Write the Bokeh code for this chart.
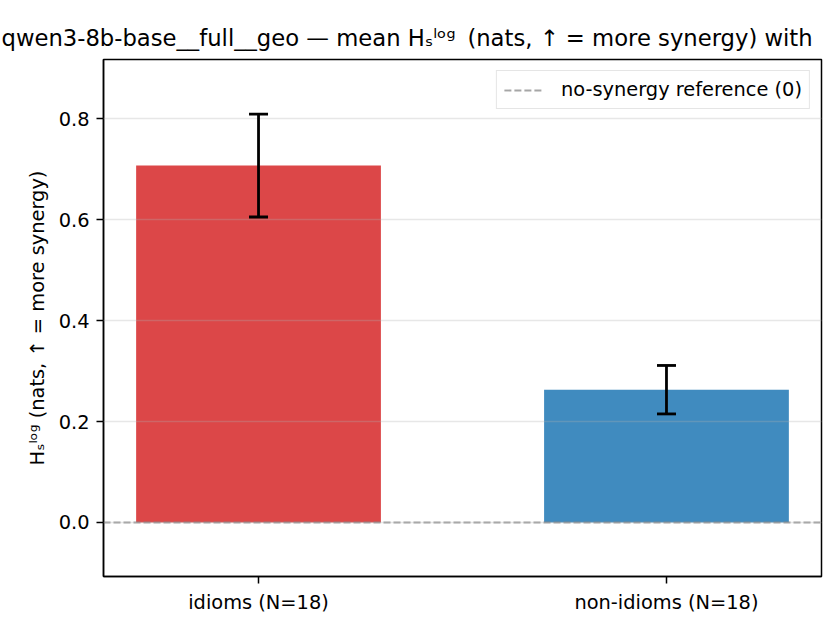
# bar chart of mean H_s^log per group with CI whiskers, matplotlib-like styling in bokeh

from bokeh.plotting import figure
from bokeh.models import (Range1d, FixedTicker, Whisker, TeeHead, ColumnDataSource,
                          PrintfTickFormatter)
from bokeh.embed import file_html
from bokeh.resources import INLINE

# data
groups = ["idioms (N=18)", "non-idioms (N=18)"]
means = [0.707, 0.263]
ci_half = [0.102, 0.048]
bar_colors = ["#d62728", "#1f77b4"]
ref_value = 0.0
ref_label = "no-synergy reference (0)"
y_ticks = [0.0, 0.2, 0.4, 0.6, 0.8]

FONT = "DejaVu Sans"
title_text = "qwen3-8b-base__full__geo \u2014 mean H\u209b\u02e1\u1d52\u1d4d\u2009 (nats, \u2191 = more synergy) with"
ylabel_text = "H\u209b\u02e1\u1d52\u1d4d (nats, \u2191 = more synergy)"

xs = list(range(len(groups)))
src = ColumnDataSource(dict(
    x=xs,
    top=means,
    color=bar_colors,
    upper=[m + e for m, e in zip(means, ci_half)],
    lower=[m - e for m, e in zip(means, ci_half)],
))

p = figure(
    frame_width=718, frame_height=517,
    min_border_left=103, min_border_right=3, min_border_top=59, min_border_bottom=38,
    x_range=Range1d(-0.38, 1.38), y_range=Range1d(-0.107, 0.917),
    title=title_text,
    output_backend="svg", toolbar_location=None, tools="",
)

# long title starts left of the axes, as in the original
p.title.align = "left"
p.title.offset = -102
p.title.standoff = 17
p.title.text_font = FONT
p.title.text_font_size = "22.7px"
p.title.text_font_style = "normal"
p.title.text_color = "black"

# bars
p.vbar(x="x", top="top", bottom=0, width=0.6, source=src,
       fill_color="color", fill_alpha=0.85, line_color=None)

# zero reference line (also the legend entry)
p.hspan(y=[ref_value], line_color="gray", line_alpha=0.7, line_width=1.9,
        line_dash="7 3", legend_label=ref_label)

# grid (drawn above the bars like matplotlib)
p.xgrid.grid_line_color = None
p.ygrid.ticker = FixedTicker(ticks=y_ticks)
p.ygrid.grid_line_color = "#b0b0b0"
p.ygrid.grid_line_alpha = 0.3
p.ygrid.grid_line_width = 1.5
p.ygrid.level = "overlay"

# error bars
p.add_layout(Whisker(source=src, base="x", upper="upper", lower="lower",
                     level="overlay", line_color="black", line_width=2.8,
                     upper_head=TeeHead(size=19, line_color="black", line_width=2.8),
                     lower_head=TeeHead(size=19, line_color="black", line_width=2.8)))

# axes
p.xaxis.ticker = FixedTicker(ticks=xs)
p.xaxis.major_label_overrides = {i: g for i, g in zip(xs, groups)}
p.yaxis.ticker = FixedTicker(ticks=y_ticks)
p.yaxis.formatter = PrintfTickFormatter(format="%.1f")
p.yaxis.axis_label = ylabel_text
p.yaxis.axis_label_standoff = 7

for ax in (p.xaxis, p.yaxis):
    ax.axis_line_color = "black"
    ax.axis_line_width = 1.5
    ax.major_tick_line_color = "black"
    ax.major_tick_line_width = 1.5
    ax.major_tick_out = 7
    ax.major_tick_in = 0
    ax.minor_tick_line_color = None
    ax.major_label_standoff = 7
    ax.major_label_text_font = FONT
    ax.major_label_text_font_size = "19.4px"
    ax.major_label_text_color = "black"
    ax.axis_label_text_font = FONT
    ax.axis_label_text_font_size = "19.4px"
    ax.axis_label_text_font_style = "normal"
    ax.axis_label_text_color = "black"

p.outline_line_color = "black"
p.outline_line_width = 1.5
p.outline_line_alpha = 1.0

# legend
p.legend.location = "top_right"
p.legend.margin = 11
p.legend.padding = 7
p.legend.label_standoff = 19
p.legend.glyph_width = 38
p.legend.glyph_height = 20
p.legend.label_height = 20
p.legend.label_text_font = FONT
p.legend.label_text_font_size = "19.4px"
p.legend.label_text_color = "black"
p.legend.border_line_color = "#cccccc"
p.legend.border_line_width = 1.4
p.legend.background_fill_alpha = 0.8

open("out.html", "w").write(file_html(p, INLINE))
